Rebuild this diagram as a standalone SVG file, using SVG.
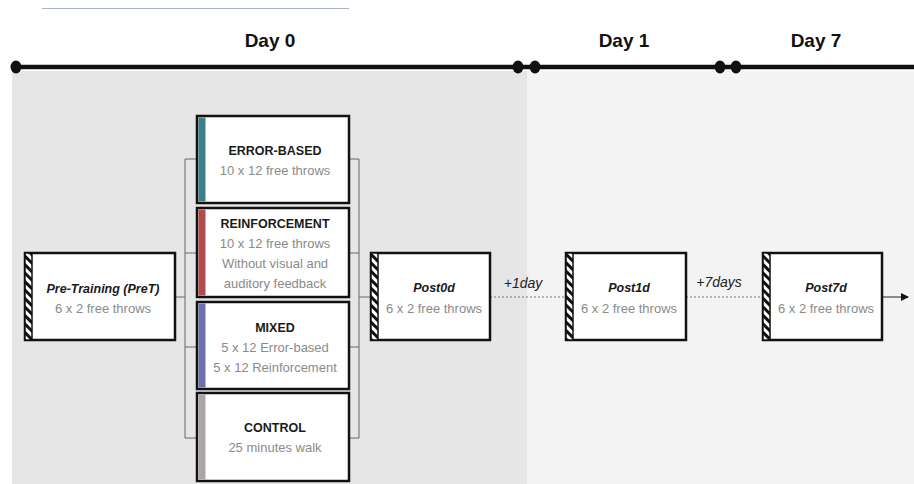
<svg xmlns="http://www.w3.org/2000/svg" width="914" height="484" viewBox="0 0 914 484">
<style>
.box{fill:#fff;stroke:#111;stroke-width:2.5}
.h{font-family:"Liberation Sans",Arial,sans-serif;font-weight:bold;font-size:12.5px;fill:#1a1a1a;text-anchor:middle}
.hi{font-family:"Liberation Sans",Arial,sans-serif;font-weight:bold;font-style:italic;font-size:12.5px;fill:#1a1a1a;text-anchor:middle}
.s{font-family:"Liberation Sans",Arial,sans-serif;font-size:13px;fill:#8a8a8a;text-anchor:middle}
.day{font-family:"Liberation Sans",Arial,sans-serif;font-weight:bold;font-size:19px;fill:#111;text-anchor:middle}
.lbl{font-family:"Liberation Sans",Arial,sans-serif;font-style:italic;font-size:14px;fill:#222;text-anchor:middle}
.br{fill:none;stroke:#666;stroke-width:1}
.dot{fill:none;stroke:#777;stroke-width:1;stroke-dasharray:2 2}
.hatch{fill:url(#hatch);stroke:#111;stroke-width:1.5}
</style>
<defs>
<pattern id="hatch" patternUnits="userSpaceOnUse" width="6" height="6" patternTransform="rotate(45)">
<rect width="6" height="6" fill="#fff"/>
<rect width="6" height="3" fill="#111"/>
</pattern>
<marker id="arr" markerWidth="8" markerHeight="8" refX="7" refY="4" orient="auto" markerUnits="userSpaceOnUse">
<path d="M0,0 L8,4 L0,8 Z" fill="#111"/>
</marker>
</defs>

<!-- background -->
<rect x="0" y="0" width="914" height="484" fill="#fff"/>
<rect x="12" y="71" width="515" height="413" fill="#e6e6e6"/>
<rect x="527" y="71" width="387" height="413" fill="#f3f3f3"/>
<line x1="42" y1="8.5" x2="349" y2="8.5" stroke="#a8b4c0" stroke-width="1"/>

<!-- timeline -->
<g id="timeline">
<line x1="15" y1="67" x2="914" y2="67" stroke="#111" stroke-width="4.5"/>
<ellipse cx="16" cy="67" rx="5.5" ry="6.5" fill="#111"/>
<ellipse cx="518" cy="67" rx="5.5" ry="6.5" fill="#111"/>
<ellipse cx="535" cy="67" rx="5.5" ry="6.5" fill="#111"/>
<ellipse cx="720" cy="67" rx="5.5" ry="6.5" fill="#111"/>
<ellipse cx="736" cy="67" rx="5.5" ry="6.5" fill="#111"/>
<text class="day" x="270" y="47">Day 0</text>
<text class="day" x="624" y="47">Day 1</text>
<text class="day" x="816" y="47">Day 7</text>
</g>

<!-- connectors -->
<g id="connectors">
<path class="br" d="M175,297 H185 M197,159 H185 V438 H197 M185,253 H197 M185,347 H197"/>
<path class="br" d="M349,159 H359 V438 H349 M349,253 H359 M349,347 H359 M359,297 H371"/>
<line class="dot" x1="490" y1="297" x2="566" y2="297"/>
<line class="dot" x1="686" y1="297" x2="763" y2="297"/>
<line x1="882" y1="297" x2="908" y2="297" stroke="#222" stroke-width="1" marker-end="url(#arr)"/>
<text class="lbl" x="523" y="288">+1day</text>
<text class="lbl" x="719" y="287">+7days</text>
</g>

<!-- Pre-training -->
<g id="pretraining">
<rect class="box" x="25" y="253" width="150" height="87"/>
<rect class="hatch" x="25" y="253" width="7" height="87"/>
<text class="hi" x="103" y="293">Pre-Training (PreT)</text>
<text class="s" x="103" y="313">6 x 2 free throws</text>
</g>

<!-- Error-based -->
<g id="errorbased">
<rect class="box" x="197" y="116" width="152" height="87"/>
<rect x="198.5" y="117.5" width="7" height="84" fill="#3d7f86"/>
<text class="h" x="275" y="155">ERROR-BASED</text>
<text class="s" x="275" y="175">10 x 12 free throws</text>
</g>

<!-- Reinforcement -->
<g id="reinforcement">
<rect class="box" x="197" y="208" width="152" height="89"/>
<rect x="198.5" y="209.5" width="7" height="86" fill="#b24b4b"/>
<text class="h" x="275" y="228">REINFORCEMENT</text>
<text class="s" x="275" y="248">10 x 12 free throws</text>
<text class="s" x="275" y="268">Without visual and</text>
<text class="s" x="275" y="288">auditory feedback</text>
</g>

<!-- Mixed -->
<g id="mixed">
<rect class="box" x="197" y="302" width="152" height="87"/>
<rect x="198.5" y="303.5" width="7" height="84" fill="#6b70aa"/>
<text class="h" x="275" y="332">MIXED</text>
<text class="s" x="275" y="352">5 x 12 Error-based</text>
<text class="s" x="275" y="372">5 x 12 Reinforcement</text>
</g>

<!-- Control -->
<g id="control">
<rect class="box" x="197" y="393" width="152" height="88"/>
<rect x="198.5" y="394.5" width="7" height="85" fill="#a9a5a5"/>
<text class="h" x="275" y="432">CONTROL</text>
<text class="s" x="275" y="452">25 minutes walk</text>
</g>

<!-- Post0d -->
<g id="post0d">
<rect class="box" x="371" y="253" width="119" height="87"/>
<rect class="hatch" x="371" y="253" width="7" height="87"/>
<text class="hi" x="434" y="292">Post0d</text>
<text class="s" x="434" y="313">6 x 2 free throws</text>
</g>

<!-- Post1d -->
<g id="post1d">
<rect class="box" x="566" y="253" width="120" height="87"/>
<rect class="hatch" x="566" y="253" width="7" height="87"/>
<text class="hi" x="629" y="292">Post1d</text>
<text class="s" x="629" y="313">6 x 2 free throws</text>
</g>

<!-- Post7d -->
<g id="post7d">
<rect class="box" x="763" y="253" width="119" height="87"/>
<rect class="hatch" x="763" y="253" width="7" height="87"/>
<text class="hi" x="826" y="292">Post7d</text>
<text class="s" x="826" y="313">6 x 2 free throws</text>
</g>
</svg>
